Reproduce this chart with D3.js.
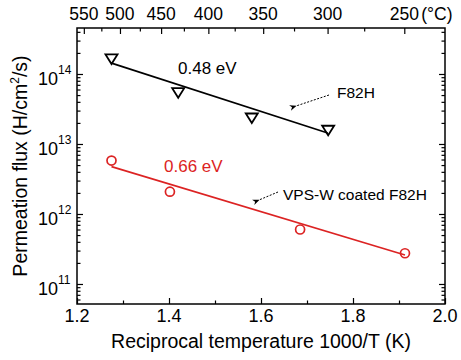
<!DOCTYPE html>
<html>
<head>
<meta charset="utf-8">
<script src="https://cdn.jsdelivr.net/npm/d3@7"></script>
<style>
  body { margin: 0; background: #fff; }
  svg { display: block; font-family: "Liberation Sans", Arial, sans-serif; }
  .tick line { stroke: #000; stroke-width: 1.2; }
</style>
</head>
<body>
<svg width="461" height="360"></svg>
<script>
// data
const f82hX = [1.275, 1.42, 1.58, 1.746];
const f82hY = [1.64e14, 5.4e13, 2.35e13, 1.57e13];
const f82hFitX = [1.275, 1.745];
const f82hFitY = [1.43e14, 1.44e13];

const vpsX = [1.275, 1.402, 1.685, 1.913];
const vpsY = [5.8e12, 2.08e12, 6.0e11, 2.75e11];
const vpsFitX = [1.275, 1.913];
const vpsFitY = [4.75e12, 2.6e11];

const xTicks = [1.2, 1.4, 1.6, 1.8, 2.0];
const xMinor = [1.3, 1.5, 1.7, 1.9];
const yExps = [11, 12, 13, 14];
const tempTicks = [550, 500, 450, 400, 350, 300, 250];
const tempMinor = [525, 475, 425, 375, 325, 275];

const red = "#dc2323";
const svg = d3.select("svg");
const pLeft = 77, pRight = 445, pTop = 28, pBottom = 304;

const x = d3.scaleLinear().domain([1.2, 2.0]).range([pLeft, pRight]);
const y = d3.scaleLog().domain([Math.pow(10, 10.714), Math.pow(10, 14.657)]).range([pBottom, pTop]);
const tToX = t => 1000 / (t + 273.15);

// log minor ticks
let yMinor = [];
for (let e = 10; e <= 14; e++) {
    for (let m = 2; m <= 9; m++) {
        let v = m * Math.pow(10, e);
        if (v >= y.domain()[0] && v <= y.domain()[1]) yMinor.push(v);
    }
}
const yMajor = yExps.map(e => Math.pow(10, e));

function addAxis(axis, tx, ty) {
    let g = svg.append("g").attr("transform", `translate(${tx},${ty})`).call(axis);
    g.select(".domain").remove();
    g.selectAll("text").remove();
    return g;
}

// bottom / top (inward ticks)
addAxis(d3.axisBottom(x).tickValues(xTicks).tickSize(-6), 0, pBottom);
addAxis(d3.axisBottom(x).tickValues(xMinor).tickSize(-3.5), 0, pBottom);
addAxis(d3.axisTop(x).tickValues(tempTicks.map(tToX)).tickSize(-6), 0, pTop);
addAxis(d3.axisTop(x).tickValues(tempMinor.map(tToX)).tickSize(-3.5), 0, pTop);

// left / right
addAxis(d3.axisLeft(y).tickValues(yMajor).tickSize(-6), pLeft, 0);
addAxis(d3.axisLeft(y).tickValues(yMinor).tickSize(-3.5), pLeft, 0);
addAxis(d3.axisRight(y).tickValues(yMajor).tickSize(-6), pRight, 0);
addAxis(d3.axisRight(y).tickValues(yMinor).tickSize(-3.5), pRight, 0);

svg.append("rect")
    .attr("x", pLeft).attr("y", pTop)
    .attr("width", pRight - pLeft).attr("height", pBottom - pTop)
    .attr("fill", "none").attr("stroke", "#000").attr("stroke-width", 1.5);

// tick labels
svg.selectAll(".xlab").data(xTicks).enter().append("text")
    .attr("x", d => x(d)).attr("y", pBottom + 18)
    .attr("text-anchor", "middle").attr("font-size", 18)
    .text(d => d.toFixed(1));

svg.selectAll(".tlab").data(tempTicks).enter().append("text")
    .attr("x", d => x(tToX(d))).attr("y", 20)
    .attr("text-anchor", "middle").attr("font-size", 17.5)
    .text(d => d);
svg.append("text")
    .attr("x", x(tToX(250)) + 17).attr("y", 20)
    .attr("font-size", 17.5)
    .text("(°C)");

yExps.forEach(e => {
    let t = svg.append("text")
        .attr("x", 38).attr("y", y(Math.pow(10, e)) + 11)
        .attr("font-size", 18);
    t.append("tspan").text("10");
    t.append("tspan").attr("dy", -11).attr("font-size", 12).text(e);
});

// axis titles
svg.append("text")
    .attr("x", (pLeft + pRight) / 2).attr("y", 348)
    .attr("text-anchor", "middle").attr("font-size", 19.5)
    .text("Reciprocal temperature 1000/T (K)");

let yt = svg.append("text")
    .attr("transform", `translate(27,${(pTop + pBottom) / 2}) rotate(-90)`)
    .attr("text-anchor", "middle").attr("font-size", 19.5);
yt.append("tspan").text("Permeation flux (H/cm");
yt.append("tspan").attr("dy", -8).attr("font-size", 12).text("2");
yt.append("tspan").attr("dy", 8).text("/s)");

// fit lines
const line = d3.line().x(d => x(d[0])).y(d => y(d[1]));
svg.append("path")
    .attr("d", line(d3.zip(f82hFitX, f82hFitY)))
    .attr("stroke", "#000").attr("stroke-width", 1.6).attr("fill", "none");
svg.append("path")
    .attr("d", line(d3.zip(vpsFitX, vpsFitY)))
    .attr("stroke", red).attr("stroke-width", 1.6).attr("fill", "none");

// markers
svg.selectAll(".tri").data(d3.zip(f82hX, f82hY)).enter().append("path")
    .attr("transform", d => `translate(${x(d[0])},${y(d[1])})`)
    .attr("d", "M-6,-4.5L6,-4.5L0,5Z")
    .attr("fill", "none").attr("stroke", "#000").attr("stroke-width", 1.8);

svg.selectAll(".circ").data(d3.zip(vpsX, vpsY)).enter().append("circle")
    .attr("cx", d => x(d[0])).attr("cy", d => y(d[1])).attr("r", 4.5)
    .attr("fill", "none").attr("stroke", red).attr("stroke-width", 1.7);

// annotations
svg.append("text").attr("x", 178).attr("y", 74).attr("font-size", 17).text("0.48 eV");
svg.append("text").attr("x", 164).attr("y", 172).attr("font-size", 17).attr("fill", red).text("0.66 eV");
svg.append("text").attr("x", 337).attr("y", 98).attr("font-size", 15.5).text("F82H");
svg.append("text").attr("x", 283).attr("y", 200).attr("font-size", 15.5).text("VPS-W coated F82H");

svg.append("defs").append("marker")
    .attr("id", "arr").attr("viewBox", "0 0 10 10")
    .attr("refX", 1).attr("refY", 5)
    .attr("markerWidth", 7).attr("markerHeight", 7)
    .attr("orient", "auto-start-reverse")
    .append("path").attr("d", "M0,5L10,1L7,5L10,9Z").attr("fill", "#000");

svg.append("line")
    .attr("x1", 329).attr("y1", 95).attr("x2", 296).attr("y2", 106)
    .attr("stroke", "#000").attr("stroke-width", 1).attr("stroke-dasharray", "2,1.5")
    .attr("marker-end", "url(#arr)");
svg.append("line")
    .attr("x1", 278).attr("y1", 192).attr("x2", 259).attr("y2", 200)
    .attr("stroke", "#000").attr("stroke-width", 1).attr("stroke-dasharray", "2,1.5")
    .attr("marker-end", "url(#arr)");
</script>
</body>
</html>
